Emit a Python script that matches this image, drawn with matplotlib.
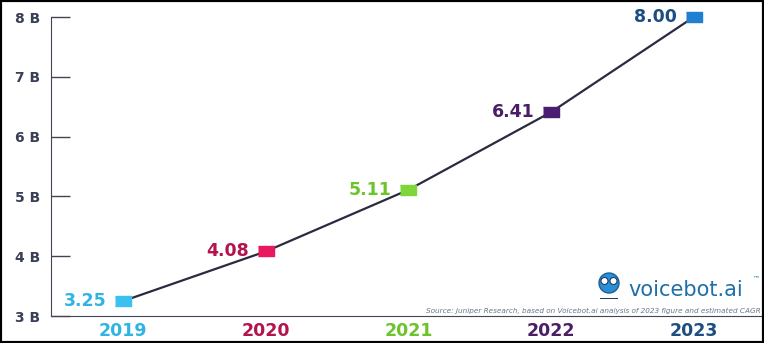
import matplotlib.pyplot as plt
from matplotlib.patches import Rectangle, Circle

# data
years = [2019, 2020, 2021, 2022, 2023]
values = [3.25, 4.08, 5.11, 6.41, 8.00]
label_colors = ['#2fb4e4', '#b3144f', '#6cc32c', '#4b1d66', '#1d4e80']
marker_colors = ['#3cc0ee', '#e8195e', '#7fd63a', '#4a1f70', '#1f7fd0']
yticks = [3, 4, 5, 6, 7, 8]
ytick_labels = ['3 B', '4 B', '5 B', '6 B', '7 B', '8 B']

fig = plt.figure(figsize=(7.64, 3.43), dpi=100)
ax = fig.add_axes([0.0668, 0.0787, 0.931, 0.8717])

ax.plot(years, values, color='#2a2a40', lw=1.6, zorder=2)
rect = [(-1.4, -1), (1.4, -1), (1.4, 1), (-1.4, 1)]
for x, v, lc, mc in zip(years, values, label_colors, marker_colors):
    ax.plot(x, v, marker=rect, ms=11, color=mc, mec=mc, clip_on=False, zorder=3)
    ax.annotate(f'{v:.2f}', (x, v), xytext=(-12, 0), textcoords='offset points',
                ha='right', va='center', fontsize=12.5, fontweight='semibold', color=lc)

ax.set_xlim(2018.495, 2023.48)
ax.set_ylim(3, 8)
ax.set_yticks(yticks)
ax.set_yticklabels(ytick_labels, fontsize=10, fontweight='semibold', color='#3a3f55')
ax.tick_params(axis='y', direction='in', length=14, width=1, color='#444455', pad=8)
ax.set_xticks(years)
ax.set_xticklabels([str(y) for y in years], fontsize=12.5, fontweight='semibold')
for t, c in zip(ax.get_xticklabels(), label_colors):
    t.set_color(c)
ax.tick_params(axis='x', length=0, pad=4)

for s in ['top', 'right']:
    ax.spines[s].set_visible(False)
ax.spines['left'].set_color('#444455')
ax.spines['bottom'].set_color('#444455')

# source + logo
ax.text(0.997, 0.008, 'Source: Juniper Research, based on Voicebot.ai analysis of 2023 figure and estimated CAGR',
        transform=ax.transAxes, ha='right', va='bottom', fontsize=5.2, style='italic', color='#667788')
fig.text(0.822, 0.155, 'voicebot.ai', fontsize=15, color='#1f6fa8', ha='left', va='center')
fig.text(0.985, 0.19, '™', fontsize=5, color='#1f6fa8', ha='left', va='center')
cx, cy = 6.09, 0.60
fig.patches.append(Circle((cx, cy), 0.10, transform=fig.dpi_scale_trans,
                          facecolor='#2b8fd6', edgecolor='#1c5f99', lw=1))
for dx in (-0.045, 0.045):
    fig.patches.append(Circle((cx + dx, cy + 0.02), 0.035, transform=fig.dpi_scale_trans,
                              facecolor='white', edgecolor='#1c3f66', lw=0.8))
fig.patches.append(Rectangle((cx - 0.09, cy - 0.16), 0.18, 0.012, transform=fig.dpi_scale_trans,
                             facecolor='#1c3f66', edgecolor='none'))

# image border
fig.patches.append(Rectangle((0, 0), 1, 1, transform=fig.transFigure, fill=False,
                             edgecolor='black', lw=3))

fig.savefig('out.png', dpi=100)
